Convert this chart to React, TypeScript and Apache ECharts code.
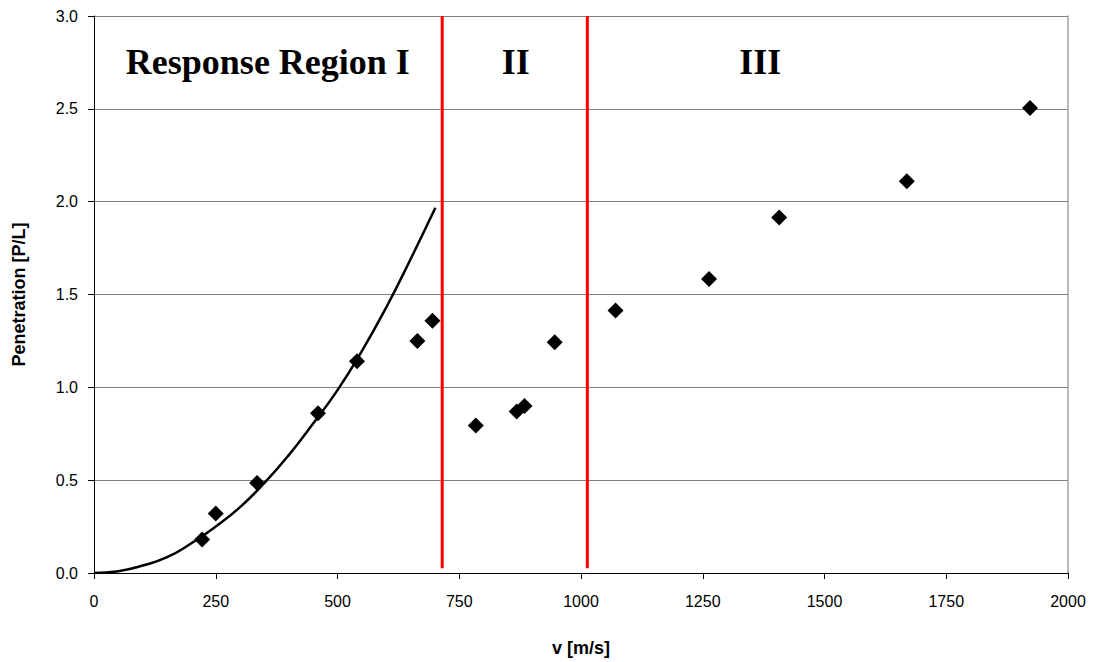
import React, { useEffect, useRef } from "react";
import * as echarts from "echarts";

const velocity = [222, 250, 335, 460, 540, 664, 695, 784, 868, 884, 946, 1071, 1263, 1407, 1669, 1922];
const penetration = [0.18, 0.32, 0.485, 0.86, 1.14, 1.25, 1.358, 0.795, 0.87, 0.9, 1.243, 1.414, 1.583, 1.915, 2.11, 2.505];

const curveV = [0, 50, 100, 150, 200, 250, 300, 350, 400, 450, 500, 550, 600, 650, 701];
const curveP = [0, 0.01, 0.04, 0.085, 0.16, 0.25, 0.355, 0.485, 0.635, 0.805, 0.985, 1.195, 1.43, 1.69, 1.967];

const boundaries = [715, 1013];
const regionLabels = ["Response Region I", "II", "III"];
const regionLabelV = [357, 866, 1368];
const regionLabelP = 2.75;

const xTicks = [0, 250, 500, 750, 1000, 1250, 1500, 1750, 2000];
const yTicks = [0, 0.5, 1, 1.5, 2, 2.5, 3];

export default function App() {
  const ref = useRef<HTMLDivElement>(null);
  useEffect(() => {
    document.body.style.margin = "0";
    const chart = echarts.init(ref.current!, null, { renderer: "svg" });
    const lineSeries = boundaries.map((b) => ({
      type: "line",
      data: [
        [b, 0.025],
        [b, 3],
      ],
      symbol: "none",
      lineStyle: { color: "#ff0000", width: 3, opacity: 1 },
      z: 3,
    }));
    chart.setOption({
      animation: false,
      backgroundColor: "#ffffff",
      grid: { left: 94, right: 28, top: 16, bottom: 89 },
      xAxis: {
        type: "value",
        min: xTicks[0],
        max: xTicks[xTicks.length - 1],
        interval: 250,
        name: "v [m/s]",
        nameLocation: "middle",
        nameGap: 66,
        nameTextStyle: { fontFamily: "Liberation Sans, Arial", fontWeight: "bold", fontSize: 18, color: "#000" },
        axisLine: { lineStyle: { color: "#000", width: 1 } },
        axisTick: { show: true, length: 6, lineStyle: { color: "#000" } },
        axisLabel: {
          fontFamily: "Liberation Sans, Arial",
          fontSize: 16,
          color: "#000",
          margin: 20,
          formatter: (v: number) => String(v),
        },
        splitLine: { show: false },
      },
      yAxis: [
        {
          type: "value",
          min: yTicks[0],
          max: yTicks[yTicks.length - 1],
          interval: 0.5,
          name: "Penetration [P/L]",
          nameLocation: "middle",
          nameGap: 66,
          nameTextStyle: { fontFamily: "Liberation Sans, Arial", fontWeight: "bold", fontSize: 18, color: "#000" },
          axisLine: { show: true, lineStyle: { color: "#000", width: 1 } },
          axisTick: { show: true, length: 6, lineStyle: { color: "#000" } },
          axisLabel: {
            fontFamily: "Liberation Sans, Arial",
            fontSize: 16,
            color: "#000",
            margin: 16,
            formatter: (v: number) => v.toFixed(1),
          },
          splitLine: { show: true, lineStyle: { color: "#808080", width: 1 } },
        },
        {
          type: "value",
          position: "right",
          min: 0,
          max: 3,
          interval: 0.5,
          axisLine: { show: true, lineStyle: { color: "#a0a0a0", width: 1.5 } },
          axisTick: { show: false },
          axisLabel: { show: false },
          splitLine: { show: false },
        },
      ],
      series: [
        {
          type: "line",
          data: curveV.map((v, i) => [v, curveP[i]]),
          smooth: true,
          symbol: "none",
          lineStyle: { color: "#000", width: 2.5, opacity: 1 },
          z: 2,
        },
        ...lineSeries,
        {
          type: "scatter",
          data: velocity.map((v, i) => [v, penetration[i]]),
          symbol: "diamond",
          symbolSize: 16,
          itemStyle: { color: "#000", opacity: 1 },
          z: 4,
        },
        {
          type: "scatter",
          data: regionLabelV.map((v, i) => ({ value: [v, regionLabelP], name: regionLabels[i] })),
          symbolSize: 0,
          silent: true,
          itemStyle: { opacity: 1 },
          label: {
            show: true,
            position: "inside",
            formatter: (p: any) => p.name,
            fontFamily: "Liberation Serif, Times New Roman",
            fontWeight: "bold",
            fontSize: 36,
            color: "#000",
            opacity: 1,
          },
          z: 5,
        },
      ],
    });
    return () => chart.dispose();
  }, []);
  return <div ref={ref} style={{ width: 1096, height: 662 }} />;
}
